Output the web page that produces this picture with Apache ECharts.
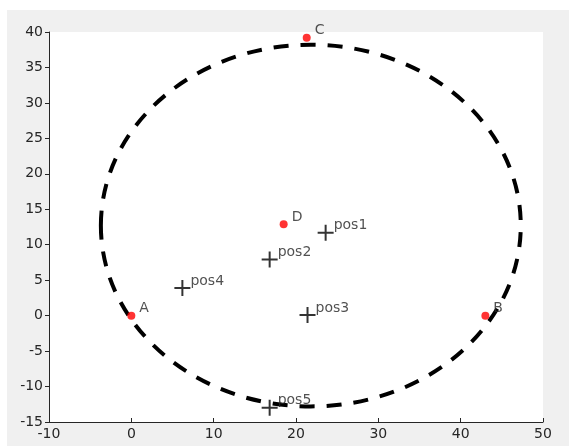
<!DOCTYPE html>
<html>
<head>
<meta charset="utf-8">
<script src="https://cdn.jsdelivr.net/npm/echarts@6/dist/echarts.min.js"></script>
<style>
  html, body { margin: 0; padding: 0; background: #ffffff; }
  #frame { position: absolute; left: 7px; top: 10px; width: 562px; height: 436px; background: #f0f0f0; }
  #chart { position: absolute; left: 0; top: 0; width: 569px; height: 446px; }
</style>
</head>
<body>
<div id="frame"></div>
<div id="chart"></div>
<script>
// Reference anchors (red dots)
const anchorNames = ['A', 'B', 'C', 'D'];
const anchorX = [0, 43, 21.3, 18.5];
const anchorY = [0, 0, 39.2, 12.9];

// Position estimates (black crosses)
const posNames = ['pos1', 'pos2', 'pos3', 'pos4', 'pos5'];
const posX = [23.6, 16.8, 21.4, 6.2, 16.8];
const posY = [11.7, 7.9, 0.1, 3.9, -13.0];

// Range circle: centre and radius
const circleCenter = [21.8, 12.7];
const circleRadius = 25.5;

// Axis ranges and tick steps
const xRange = [-10, 50];
const xStep = 10;
const yRange = [-15, 40];
const yStep = 5;

const FONT = 'DejaVu Sans';
const TEXT = '#262626';

const anchorData = anchorNames.map((n, i) => ({ name: n, value: [anchorX[i], anchorY[i]] }));
const posData = posNames.map((n, i) => ({ name: n, value: [posX[i], posY[i]] }));

const pointLabel = {
  show: true,
  formatter: '{b}',
  position: 'inside',
  align: 'left',
  verticalAlign: 'middle',
  offset: [8, -7],
  color: TEXT,
  fontFamily: FONT,
  fontSize: 14
};

const chart = echarts.init(document.getElementById('chart'), null, { renderer: 'canvas' });
chart.setOption({
  animation: false,
  backgroundColor: 'transparent',
  grid: {
    left: 49, top: 32, right: 26, bottom: 24,
    show: true, backgroundColor: '#ffffff', borderWidth: 0
  },
  xAxis: {
    type: 'value', min: xRange[0], max: xRange[1], interval: xStep,
    axisLine: { show: true, onZero: false, lineStyle: { color: TEXT, width: 1 } },
    axisTick: { show: true, inside: true, length: 4, lineStyle: { color: TEXT } },
    axisLabel: { color: TEXT, fontFamily: FONT, fontSize: 14, margin: 5 },
    splitLine: { show: false }
  },
  yAxis: {
    type: 'value', min: yRange[0], max: yRange[1], interval: yStep,
    axisLine: { show: true, onZero: false, lineStyle: { color: TEXT, width: 1 } },
    axisTick: { show: true, inside: false, length: 4, lineStyle: { color: TEXT } },
    axisLabel: { color: TEXT, fontFamily: FONT, fontSize: 14, margin: 6 },
    splitLine: { show: false }
  },
  series: [
    {
      type: 'custom',
      coordinateSystem: 'cartesian2d',
      encode: { x: 0, y: 1 },
      data: [[circleCenter[0], circleCenter[1], circleRadius]],
      renderItem: function (params, api) {
        const c = api.coord([api.value(0), api.value(1)]);
        const s = api.size([api.value(2), api.value(2)]);
        return {
          type: 'ellipse',
          shape: { cx: c[0], cy: c[1], rx: s[0], ry: s[1] },
          style: { fill: null, stroke: '#000000', lineWidth: 4, lineDash: [15, 12], lineCap: 'butt' }
        };
      },
      z: 1
    },
    {
      type: 'scatter',
      data: anchorData,
      symbol: 'circle',
      symbolSize: 8,
      itemStyle: { color: '#ff0000' },
      label: pointLabel,
      z: 3
    },
    {
      type: 'scatter',
      data: posData,
      symbol: 'path://M7,0H9V7H16V9H9V16H7V9H0V7H7Z',
      symbolSize: 16,
      itemStyle: { color: '#000000' },
      label: pointLabel,
      z: 3
    }
  ]
});
</script>
</body>
</html>
